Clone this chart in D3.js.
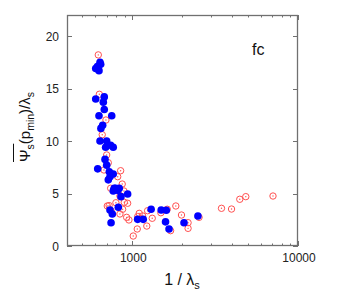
<!DOCTYPE html>
<html><head><meta charset="utf-8">
<script src="https://cdn.jsdelivr.net/npm/d3@7"></script>
<style>body{margin:0;background:#fff}svg{display:block}</style>
</head><body>
<svg id="c" width="351" height="300"></svg>
<script>
const blueX = [602,616,630,639,645,602,678,669,678,630,752,663,647,639,701,691,741,768,685,701,619,727,768,717,734,778,768,794,835,817,855,938,824,734,758,745,1078,1165,1300,1495,1605,1588,1667,2053,2490];
const blueY = [16.9,17.1,16.7,17.5,17.3,14.0,14.2,13.7,13.0,12.4,12.4,11.5,11.2,10.0,10.0,9.4,9.6,9.4,8.25,7.7,7.35,7.07,6.86,6.3,6.6,5.5,5.24,5.5,5.5,5.3,4.7,4.95,3.69,3.43,3.05,2.22,2.54,2.54,3.5,3.43,3.4,2.3,1.62,2.22,2.86];
const redX = [624,633,694,659,701,717,675,851,817,870,741,794,891,843,707,725,797,895,938,875,843,745,925,955,1102,1078,1155,1320,1238,1488,1626,1832,1982,2172,2172,2530,1224,1072,1014,1703,3455,3972,4454,4842,7066];
const redY = [18.2,14.45,12.0,10.6,8.67,7.93,7.24,7.17,6.6,5.9,5.5,5.33,5.24,4.76,3.81,3.85,4.12,4.16,4.07,3.5,3.05,3.35,2.73,2.48,3.11,2.8,2.86,2.64,3.36,3.17,3.5,3.81,2.95,2.22,1.68,2.73,1.9,1.62,0.95,1.46,3.59,3.52,4.45,4.7,4.76];
const yTicks = [0,5,10,15,20];
const xTickLabels = [1000,10000];
const xMinor = [500,600,700,800,900,2000,3000,4000,5000,6000,7000,8000,9000];

const svg = d3.select("#c");
const L=67,R=298,T=15,B=246;
const x = d3.scaleLog().domain([404,10000]).range([L,R]);
const y = d3.scaleLinear().domain([0,22]).range([B,T]);
const axisColor="#707070";
const font="Liberation Sans, Arial, sans-serif";

// ticks
const tg = svg.append("g").attr("stroke",axisColor).attr("stroke-width",1);
yTicks.forEach(v=>{
  const yy=Math.round(y(v))+0.5;
  tg.append("line").attr("x1",L).attr("x2",L+5).attr("y1",yy).attr("y2",yy);
  tg.append("line").attr("x1",R).attr("x2",R-5).attr("y1",yy).attr("y2",yy);
});
xTickLabels.forEach(v=>{
  const xx=Math.round(x(v))+0.5;
  tg.append("line").attr("x1",xx).attr("x2",xx).attr("y1",B).attr("y2",B-5);
  tg.append("line").attr("x1",xx).attr("x2",xx).attr("y1",T).attr("y2",T+5);
});
xMinor.forEach(v=>{
  const xx=Math.round(x(v))+0.5;
  tg.append("line").attr("x1",xx).attr("x2",xx).attr("y1",B).attr("y2",B-2.5);
  tg.append("line").attr("x1",xx).attr("x2",xx).attr("y1",T).attr("y2",T+2.5);
});
svg.append("rect").attr("x",L+0.5).attr("y",T+0.5).attr("width",R-L-1).attr("height",B-T-1)
  .attr("fill","none").attr("stroke",axisColor).attr("stroke-width",1.3);

// tick labels
svg.append("g").selectAll("text").data(yTicks).join("text")
  .attr("x",L-8).attr("y",d=>y(d)+4.5).attr("text-anchor","end")
  .attr("font-family",font).attr("font-size",12).attr("fill","#222").text(d=>d);
svg.append("g").selectAll("text").data(xTickLabels).join("text")
  .attr("x",d=>x(d)+1).attr("y",262).attr("text-anchor","middle")
  .attr("font-family",font).attr("font-size",12).attr("fill","#222").text(d=>d);

// points
const rg = svg.append("g");
d3.range(redX.length).forEach(i=>{
  rg.append("circle").attr("cx",x(redX[i])).attr("cy",y(redY[i])).attr("r",3.2)
    .attr("fill","none").attr("stroke","#ff5050").attr("stroke-width",1);
  rg.append("circle").attr("cx",x(redX[i])).attr("cy",y(redY[i])).attr("r",0.7)
    .attr("fill","#ff5050");
});
svg.append("g").selectAll("circle").data(d3.range(blueX.length)).join("circle")
  .attr("cx",i=>x(blueX[i])).attr("cy",i=>y(blueY[i])).attr("r",3.8).attr("fill","#0000ff");

// labels
svg.append("text").attr("x",252).attr("y",55).attr("font-family",font).attr("font-size",16).attr("fill","#111").text("fc");

const xl = svg.append("text").attr("x",182).attr("y",285).attr("text-anchor","middle")
  .attr("font-family",font).attr("font-size",16).attr("fill","#111");
xl.append("tspan").text("1 / λ");
xl.append("tspan").attr("font-size",11).attr("dy",4).text("s");

const yg = svg.append("g").attr("transform","translate(30,127) rotate(-90)");
const yl = yg.append("text").attr("x",0).attr("y",0).attr("text-anchor","middle")
  .attr("font-family",font).attr("font-size",15).attr("fill","#111");
yl.append("tspan").text("Ψ");
yl.append("tspan").attr("font-size",10.5).attr("dy",4).text("s");
yl.append("tspan").attr("dy",-4).text("(p");
yl.append("tspan").attr("font-size",10.5).attr("dy",4).text("min");
yl.append("tspan").attr("dy",-4).text(")/λ");
yl.append("tspan").attr("font-size",10.5).attr("dy",4).text("s");
const tl = yl.node().getComputedTextLength();
const w = yl.node().getSubStringLength(0,2);
yg.append("line").attr("x1",-tl/2).attr("x2",-tl/2+w+0.5).attr("y1",-16.5).attr("y2",-16.5)
  .attr("stroke","#111").attr("stroke-width",1);
</script>
</body></html>
